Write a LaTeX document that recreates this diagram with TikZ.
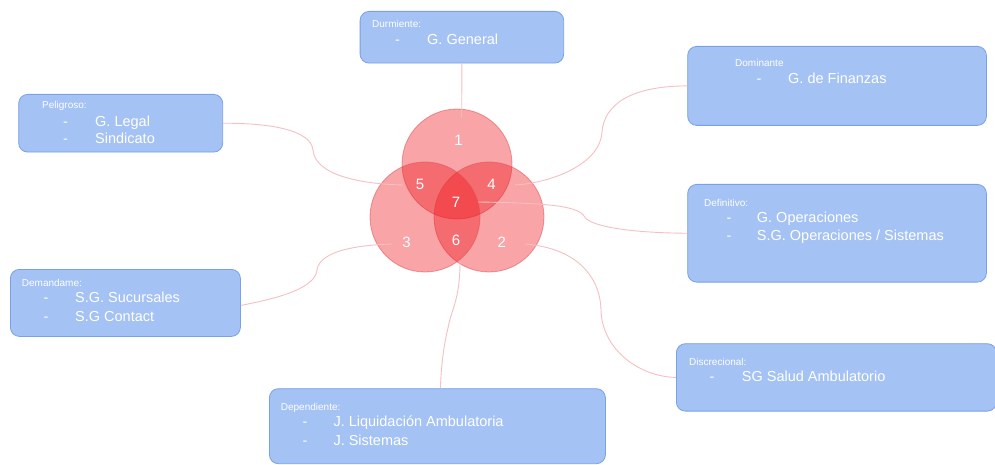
\documentclass[tikz,border=0pt]{standalone}
\usepackage{fontspec}
\setmainfont{Liberation Sans}
\begin{document}
\definecolor{boxfill}{RGB}{164,194,244}
\definecolor{boxline}{RGB}{120,160,235}
\definecolor{vennred}{RGB}{240,22,28}
\definecolor{vennline}{RGB}{225,80,85}
\definecolor{linkpink}{RGB}{245,192,194}
\begin{tikzpicture}[x=1pt,y=-1pt,
  box/.style={draw=boxline, line width=0.8pt, fill=boxfill, rounded corners=9pt,
    anchor=north west, inner sep=0pt},
  venn/.style={fill=vennred, fill opacity=0.39, draw=vennline, draw opacity=0.55, line width=0.8pt},
  conn/.style={draw=linkpink, line width=0.9pt},
  tag/.style={anchor=base west, inner sep=0pt, text=white, font=\fontsize{10}{12}\selectfont},
  item/.style={anchor=base west, inner sep=0pt, text=white, font=\fontsize{14.5}{17}\selectfont},
  num/.style={text=white, inner sep=0pt, font=\fontsize{15}{18}\selectfont}]
\useasboundingbox (0,0) rectangle (995,465);
\fill[white] (0,0) rectangle (995,465);

% three overlapping circles
\coordinate (ca) at (457,164);
\coordinate (cb) at (489,217);
\coordinate (cc) at (425,217);
\path[venn] (ca) circle (55pt);
\path[venn] (cb) circle (55pt);
\path[venn] (cc) circle (55pt);

% connector end points inside the circles
\coordinate (e1) at (461.7,118);
\coordinate (e5) at (403,185);
\coordinate (e4) at (515,185);
\coordinate (e7) at (478,202);
\coordinate (e2) at (525,244);
\coordinate (e3) at (392,244);
\coordinate (e6) at (460,262);

% boxes
\node[box, minimum width=203.6pt, minimum height=51.7pt] (durm) at (359.7,11) {};
\node[box, minimum width=298.7pt, minimum height=79pt] (domi) at (687.3,46) {};
\node[box, minimum width=204pt, minimum height=57.7pt] (peli) at (18.3,94) {};
\node[box, minimum width=298.7pt, minimum height=97.7pt] (defi) at (687.3,184) {};
\node[box, minimum width=230pt, minimum height=67pt] (dema) at (10,269) {};
\node[box, minimum width=320pt, minimum height=67.4pt] (disc) at (676,343.3) {};
\node[box, minimum width=336pt, minimum height=75pt] (depe) at (269,388.3) {};

% connectors
\draw[conn] (durm.south) -- (e1);
\draw[conn] (peli.east) .. controls (270,123) and (311,130) .. (313,150)
  .. controls (315,175) and (360,184) .. (e5);
\draw[conn] (domi.west) .. controls (630,86) and (604,105) .. (602,132)
  .. controls (600,165) and (550,183) .. (e4);
\draw[conn] (e7) .. controls (540,203) and (577,205) .. (584,216)
  .. controls (590,228) and (640,233) .. (defi.west);
\draw[conn] (e2) .. controls (575,248) and (600,275) .. (601,310)
  .. controls (602,350) and (640,377) .. (disc.west);
\draw[conn] ([yshift=-2.5pt]dema.east) .. controls (280,298) and (315,288) .. (317,270)
  .. controls (320,250) and (360,245) .. (e3);
\draw[conn] (e6) .. controls (460,300) and (451,310) .. (448,328)
  .. controls (443,348) and (441,370) .. ([xshift=3pt]depe.north);

% region numbers
\node[num] (n1) at (458.5,140) {1};
\node[num] (n5) at (420,184.3) {5};
\node[num] (n4) at (491.5,184.3) {4};
\node[num] (n7) at (456,202.3) {7};
\node[num] (n3) at (406.5,242.5) {3};
\node[num] (n6) at (456,240) {6};
\node[num] (n2) at (501.7,242.5) {2};

% box texts
\node[tag] (t1) at (372,27.5) {Durmiente:};
\node[item] (t1a) at (395,45) {-};
\node[item] (t1b) at (427,45) {G. General};

\node[tag] (t2) at (735,66.5) {Dominante};
\node[item] (t2a) at (756.5,84) {-};
\node[item] (t2b) at (788,84) {G. de Finanzas};

\node[tag] (t3) at (42,109) {Peligroso:};
\node[item] (t3a) at (63,126.7) {-};
\node[item] (t3b) at (95,126.7) {G. Legal};
\node[item] (t3c) at (63,144) {-};
\node[item] (t3d) at (95,144) {Sindicato};

\node[tag] (t4) at (704,206) {Definitivo:};
\node[item] (t4a) at (726.5,222.3) {-};
\node[item] (t4b) at (756.7,222.3) {G. Operaciones};
\node[item] (t4c) at (726.5,240) {-};
\node[item] (t4d) at (756.7,240) {S.G. Operaciones / Sistemas};

\node[tag] (t5) at (21.7,286.7) {Demandame:};
\node[item] (t5a) at (43.5,302.7) {-};
\node[item] (t5b) at (75,302.7) {S.G. Sucursales};
\node[item] (t5c) at (43.5,321) {-};
\node[item] (t5d) at (75,321) {S.G Contact};

\node[tag] (t6) at (689,365) {Discrecional:};
\node[item] (t6a) at (709.5,381) {-};
\node[item] (t6b) at (741.7,381) {SG Salud Ambulatorio};

\node[tag] (t7) at (280.7,410) {Dependiente:};
\node[item] (t7a) at (302.5,426.7) {-};
\node[item] (t7b) at (333.3,426.7) {J. Liquidación Ambulatoria};
\node[item] (t7c) at (302.5,445) {-};
\node[item] (t7d) at (333.3,445) {J. Sistemas};
\end{tikzpicture}
\end{document}
